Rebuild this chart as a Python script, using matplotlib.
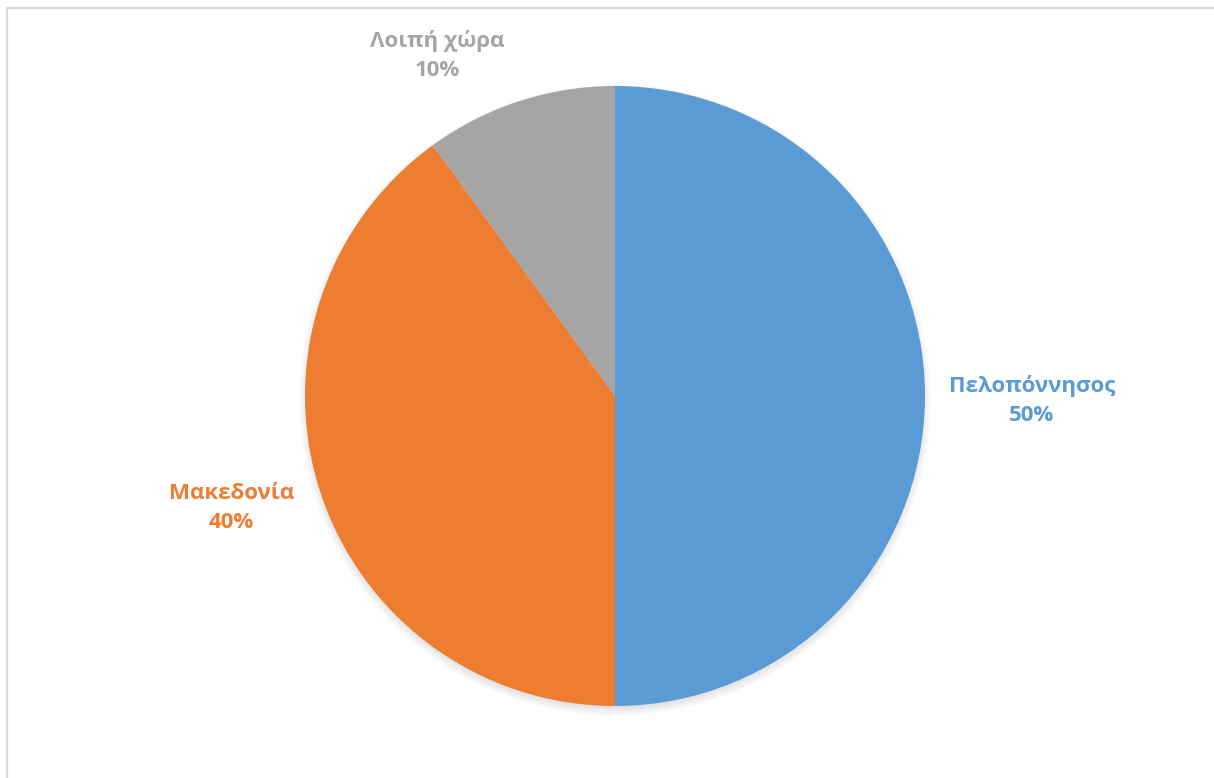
import numpy as np
import matplotlib.pyplot as plt
from matplotlib.patches import Circle, Rectangle

regions = ['Πελοπόννησος', 'Μακεδονία', 'Λοιπή χώρα']
shares = [50, 40, 10]
colors = ['#5B9BD5', '#ED7D31', '#A5A5A5']

plt.rcParams['font.family'] = ['Open Sans', 'DejaVu Sans']

W, H = 1214, 778
fig = plt.figure(figsize=(W / 100, H / 100), dpi=100)
ax = fig.add_axes([0, 0, 1, 1])

# chart-area frame (runs off the right and bottom edges)
ax.add_patch(Rectangle((7, -20), W + 40, H - 8 + 20, fill=False,
                       edgecolor='#D9D9D9', linewidth=1.6, zorder=0))

cx, cy, r = 615, H - 396, 310

# soft drop shadow under the pie
for k in range(12):
    ax.add_patch(Circle((cx, cy - 4), r + 6 - k, facecolor='black',
                        edgecolor='none', alpha=0.012, zorder=1))

wedges, _ = ax.pie(shares, colors=colors, startangle=90, counterclock=False,
                   radius=r, center=(cx, cy), frame=True,
                   wedgeprops=dict(linewidth=0, zorder=2))
ax.set_xlim(0, W)
ax.set_ylim(0, H)
ax.axis('off')

# label placement: (angle in degrees, distance as multiple of radius)
label_pos = [(-0.6, 1.345), (-163.7, 1.29), (117.6, 1.24)]
for name, val, col, (ang, dist) in zip(regions, shares, colors, label_pos):
    a = np.deg2rad(ang)
    ax.text(cx + dist * r * np.cos(a), cy + dist * r * np.sin(a),
            f'{name}\n{val}%', ha='center', va='center', color=col,
            fontsize=16, fontweight='bold', linespacing=1.5, zorder=3)

fig.savefig('out.png', dpi=100, facecolor='white')
